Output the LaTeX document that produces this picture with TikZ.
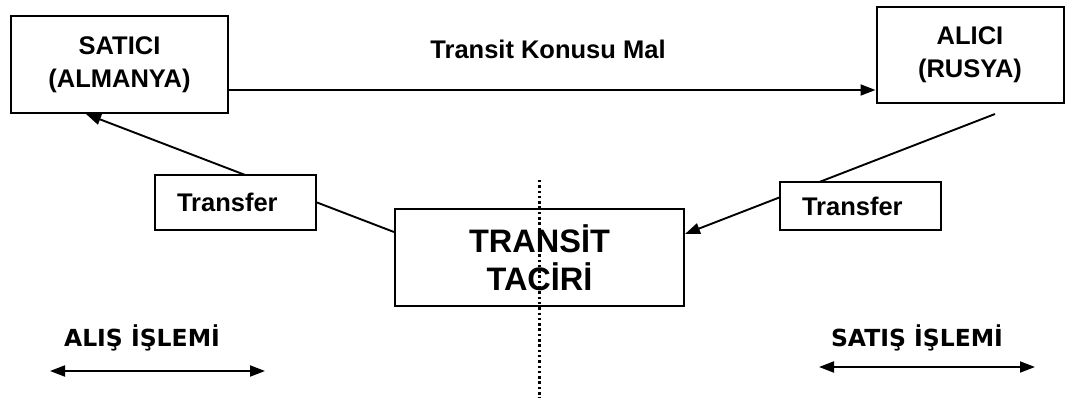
\documentclass[tikz,border=0pt]{standalone}
\usepackage{fontspec}
\setmainfont{Liberation Sans}
\newfontfamily\sidefont{DejaVu Sans}
\usetikzlibrary{arrows.meta,calc}

\begin{document}
\begin{tikzpicture}[x=1pt,y=-1pt,
  box/.style={draw, line width=2pt, fill=white, inner sep=0pt, align=center,
    font=\bfseries\fontsize{25.5}{33}\selectfont},
  smallbox/.style={draw, line width=2pt, fill=white, inner ysep=0pt, inner xsep=22pt,
    text width=117pt, align=left, minimum height=#1,
    font=\bfseries\fontsize{25.5}{30}\selectfont},
  tip/.tip={Triangle[length=15pt,width=11pt]},
  conn/.style={line width=1.9pt, -tip},
  twoway/.style={line width=1.9pt, tip-tip},
  divider/.style={line width=3pt, dash pattern=on 2.5pt off 2.8pt},
  sidelabel/.style={inner sep=0pt, font=\sidefont\bfseries\fontsize{23.5}{28}\selectfont},
  flowlabel/.style={inner sep=0pt, font=\bfseries\fontsize{25.5}{30}\selectfont}
]
\useasboundingbox[fill=white] (0,0) rectangle (1068,398);

% parties
\node[box, minimum width=217pt, minimum height=97pt] (satici) at (119.5,64.5)
  {SATICI\\(ALMANYA)};
\node[box, minimum width=187pt, minimum height=96pt] (alici) at (970,55)
  {ALICI\\(RUSYA)};
\node[box, minimum width=289pt, minimum height=97pt,
  font=\bfseries\fontsize{32.5}{38}\selectfont] (tacir) at (539.5,257.5)
  {TRANSİT\\TACİRİ};

% flow of goods
\coordinate (goodsfrom) at ($(satici.south east)+(0,-24)$);
\coordinate (goodsto) at (goodsfrom -| alici.west);
\draw[conn] (goodsfrom) -- (goodsto);
\node[flowlabel] (goodslabel) at (548,49) {Transit Konusu Mal};

% payment transfers
\coordinate (payleftfrom) at ($(tacir.north west)+(0,24)$);
\coordinate (payleftto) at ($(satici.south west)+(76,0)$);
\draw[conn] (payleftfrom) -- (payleftto);
\coordinate (payrightfrom) at (995,114);
\coordinate (payrightto) at ($(tacir.north east)+(0,26)$);
\draw[conn] (payrightfrom) -- (payrightto);

\node[smallbox=55pt] (transferL) at (235.5,202.5) {Transfer};
\node[smallbox=48pt] (transferR) at (860.5,206) {Transfer};

% dividing line between the two transactions
\coordinate (divtop) at (539,180);
\coordinate (divbot) at (539,398);
\draw[divider] (divtop) -- (divbot);

% transaction labels
\node[sidelabel] (alis) at (142,338) {ALIŞ İŞLEMİ};
\coordinate (alisL) at (50,371);
\coordinate (alisR) at (265,371);
\draw[twoway] (alisL) -- (alisR);

\node[sidelabel] (satis) at (917,338) {SATIŞ İŞLEMİ};
\coordinate (satisL) at (819,367);
\coordinate (satisR) at (1035,367);
\draw[twoway] (satisL) -- (satisR);
\end{tikzpicture}
\end{document}
